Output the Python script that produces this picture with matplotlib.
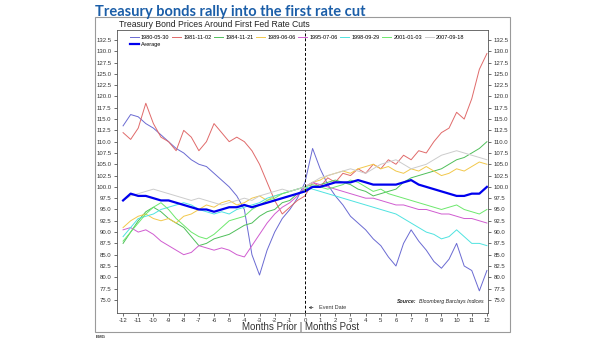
import matplotlib.pyplot as plt
import matplotlib.patches as patches
import numpy as np

# months relative to the first rate cut, half-month steps
months = np.arange(-12, 12.01, 0.5)

# index level, 100 = event date
s1980 = [113.5, 116, 115.5, 114, 113, 111.5, 110, 108.5, 107.5, 106, 105, 104.5, 103, 101.5, 100, 98, 95, 85, 80.5, 86,
         90, 93, 95, 97.5, 101, 108.5, 104, 100.5, 98, 96, 93.5, 92, 90.5, 88.5, 87, 84.5, 82.5, 87.5, 90.5, 88,
         86, 83.5, 82, 84, 87.5, 82.5, 81.5, 77, 81.5]
s1981 = [112, 110.5, 113, 118.5, 114, 111, 110, 108, 112.5, 111, 108, 110, 114, 112, 110, 111, 110, 108, 105, 101,
         97, 94, 95.5, 97, 98, 101, 100, 102, 101, 103, 102.5, 104, 103, 105, 104, 106, 105, 107, 106, 108,
         107.5, 110, 112, 113, 116.5, 115, 119.5, 126, 129.5]
s1984 = [87.5, 90, 92.5, 94.5, 95.5, 94.5, 93, 92, 91, 89, 87, 87.5, 88.5, 89, 89.5, 90.5, 91.5, 92, 93.5, 94.5,
         95, 96.5, 97, 98.5, 99.5, 100, 100.5, 101, 101.5, 101, 100.5, 99.5, 99, 98, 98.5, 99, 99.5, 101, 102, 102.5,
         103, 103.5, 104, 105, 106, 106.5, 107.5, 108.5, 110]
s1989 = [91, 92.5, 93.5, 94, 93, 92.5, 93, 92, 93.5, 94, 95, 96, 95.5, 96.5, 97, 96, 96.5, 97.5, 98, 97,
         98, 98.5, 99, 99.5, 100, 101, 101.5, 102.5, 103, 103.5, 103, 104, 104.5, 105, 104, 104.5, 103.5, 103, 104, 103.5,
         104.5, 103.5, 102.5, 103, 104, 103.5, 104.5, 105.5, 105]
s1995 = [90.5, 91, 90, 90.5, 89.5, 88, 87, 86, 85, 85.5, 87, 86.5, 86, 86.5, 86, 85, 84.5, 87, 89.5, 92,
         94, 95.5, 96.5, 98, 100, 101, 100.5, 100, 99.5, 99, 98.5, 98, 97.5, 97.5, 97, 96.5, 96, 96, 95.5, 95,
         95, 94.5, 94, 94, 93.5, 93, 93, 92.5, 92]
s1998 = [89, 91, 93, 93.5, 94, 95, 95.5, 96, 96.5, 96, 95, 94.5, 94, 94.5, 94, 95, 95.5, 96, 96.5, 97.5,
         98, 98.5, 99, 99.5, 100, 99.5, 99, 98.5, 98, 97.5, 97, 96.5, 96, 95.5, 95, 94.5, 94, 93, 92, 91,
         90, 89.5, 88.5, 89, 90.5, 89, 87.5, 87.5, 87]
s2001 = [88, 90, 92, 94, 95.5, 96.5, 95, 93, 91.5, 90, 89, 88.5, 89.5, 91, 92.5, 93, 93.5, 95, 96, 97,
         97.5, 98.5, 99, 99.5, 100, 100.5, 100, 99.5, 100, 100.5, 101.5, 101, 100, 99, 99.5, 98.5, 98, 97.5, 97, 96.5,
         96, 95.5, 95, 95.5, 96, 95, 94.5, 94, 95]
s2007 = [97, 98, 98.5, 99, 99.5, 99, 98.5, 98, 97.5, 97, 97.5, 97, 96.5, 96, 96.5, 97, 97.5, 97, 98, 98.5,
         99, 99.5, 99, 99.5, 100, 101, 102, 102.5, 103, 103.5, 104, 103.5, 103, 104, 105, 105.5, 106, 105, 104, 104.5,
         105, 106, 107, 107.5, 108, 107.5, 107, 106.5, 106]
average = [97, 98.5, 98, 98, 97.5, 97, 97, 96.5, 96, 95.5, 95, 95, 94.5, 95, 95.5, 95.5, 96, 95.5, 96, 96.5,
           97, 97.5, 98, 98.5, 99, 100, 100, 100.5, 101, 101, 101, 101.5, 101, 100.5, 100.5, 100.5, 100.5, 101, 101.5, 100.5,
           100, 99.5, 99, 98.5, 98, 98, 98.5, 98.5, 100]

series = [
    ("1980-05-30", s1980, "#6a6ad2"),
    ("1981-11-02", s1981, "#e06a6a"),
    ("1984-11-21", s1984, "#4fbf5a"),
    ("1989-06-06", s1989, "#f2c84b"),
    ("1995-07-06", s1995, "#d05cd0"),
    ("1998-09-29", s1998, "#4fe3e0"),
    ("2001-01-03", s2001, "#6de86d"),
    ("2007-09-18", s2007, "#cccccc"),
]

yticks = np.arange(75, 133, 2.5)
xticks = np.arange(-12, 13, 1)

plt.rcParams['font.family'] = ['Liberation Sans', 'DejaVu Sans']

fig = plt.figure(figsize=(6.05, 3.41), dpi=100)

# outer grey frame around the chart
frame = patches.Rectangle((0.157, 0.026), 0.686, 0.924, transform=fig.transFigure,
                          fill=False, edgecolor="#9a9a9a", linewidth=0.8)
fig.patches.append(frame)

fig.text(0.157, 0.965, "Treasury bonds rally into the first rate cut", fontsize=10.5,
         fontweight="bold", color="#1b5ea8", family="Lato", va="center", ha="left")
fig.text(0.197, 0.928, "Treasury Bond Prices Around First Fed Rate Cuts", fontsize=6.2,
         color="#222222", va="center", ha="left")
fig.text(0.159, 0.012, "BMG", fontsize=3.2, fontweight="bold", color="#333333", va="center")

ax = fig.add_axes([0.1934, 0.0821, 0.6132, 0.8299])

handles = {}
for label, vals, color in series:
    ln, = ax.plot(months, vals, color=color, linewidth=0.7, label=label)
    handles[label] = ln
avg_ln, = ax.plot(months, average, color="#0000ee", linewidth=1.6, label="Average")

ax.axvline(0, color="black", linestyle=(0, (3, 2)), linewidth=0.7)

ax.set_xlim(-12.4, 12.07)
ax.set_ylim(72.1, 134.7)
ax.set_xticks(xticks)
ax.set_xticklabels([str(v) for v in xticks])
ax.set_yticks(yticks)
ax.set_yticklabels([f"{v:.1f}" for v in yticks])
ax.tick_params(axis="both", labelsize=4.3, length=2, width=0.5, pad=1.5, colors="#333333")
ax.tick_params(axis="y", right=True, labelright=True, pad=2)
for sp in ax.spines.values():
    sp.set_linewidth(0.6)
    sp.set_color("#555555")

# legend: Average sits under the first entry
order = [handles["1980-05-30"], avg_ln] + [handles[s[0]] for s in series[1:]]
ax.legend(handles=order, labels=[h.get_label() for h in order], ncol=8, loc="upper left",
          bbox_to_anchor=(0.025, 0.995), frameon=False, fontsize=4.0, handlelength=1.6,
          handletextpad=0.4, columnspacing=0.5, labelspacing=0.4, borderaxespad=0.2)

ax.annotate("Event Date", xy=(0.05, 73.3), xytext=(0.9, 73.3), fontsize=4, va="center",
            ha="left", color="#333333",
            arrowprops=dict(arrowstyle="->", linewidth=0.5, color="#333333"))
ax.text(7.35, 74.6, "Source:", fontsize=3.8, fontweight="bold", fontstyle="italic",
        ha="right", va="center", color="#222222")
ax.text(11.8, 74.6, "Bloomberg Barclays Indices", fontsize=3.8, fontstyle="italic",
        ha="right", va="center", color="#222222")

fig.text(0.497, 0.041, "Months Prior | Months Post", fontsize=7, color="#333333",
         ha="center", va="center")

fig.savefig("out.png", dpi=100)
